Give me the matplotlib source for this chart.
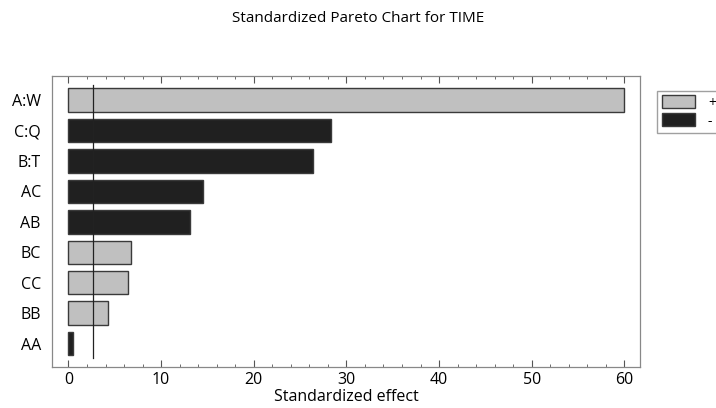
import matplotlib
matplotlib.use('Agg')
import matplotlib.pyplot as plt
from matplotlib.patches import Patch
from matplotlib.ticker import MultipleLocator

plt.rcParams['font.family'] = ['Open Sans', 'DejaVu Sans']

# Effects, top to bottom
terms = ['A:W', 'C:Q', 'B:T', 'AC', 'AB', 'BC', 'CC', 'BB', 'AA']
effects = [60.0, 28.35, 26.4, 14.5, 13.1, 6.7, 6.4, 4.25, 0.5]
signs = ['+', '-', '-', '-', '-', '+', '+', '+', '-']
critical = 2.6

POS = '#c0c0c0'
NEG = '#202020'

fig = plt.figure(figsize=(7.16, 4.08), dpi=100)
ax = fig.add_axes([0.0726, 0.1005, 0.8214, 0.7132])

colors = [POS if s == '+' else NEG for s in signs]
ypos = list(range(len(terms)))
ax.barh(ypos, effects, height=0.77, color=colors, edgecolor='#3a3a3a', linewidth=1.0, zorder=2)
ax.axvline(critical, ymin=0.03, ymax=0.97, color='#222222', linewidth=0.9, zorder=3)

ax.set_ylim(len(terms) - 1 + 0.77, -0.79)
ax.set_xlim(-1.78, 61.7)
ax.set_yticks(ypos)
ax.set_yticklabels(terms, fontsize=11.5)
ax.tick_params(axis='y', length=0, pad=8)

ax.xaxis.set_major_locator(MultipleLocator(10))
ax.xaxis.set_minor_locator(MultipleLocator(2))
ax.tick_params(axis='x', which='major', direction='in', length=5, top=True, labelsize=11.5, color='#555555')
ax.tick_params(axis='x', which='minor', direction='in', length=2.5, top=True, color='#555555')
ax.set_xlabel('Standardized effect', fontsize=11.5, labelpad=1)

for sp in ax.spines.values():
    sp.set_color('#888888')
    sp.set_linewidth(0.9)

fig.text(0.5, 0.955, 'Standardized Pareto Chart for TIME', ha='center', va='center', fontsize=11)

handles = [Patch(facecolor=POS, edgecolor='#3a3a3a', label='+'),
           Patch(facecolor=NEG, edgecolor='#3a3a3a', label='-')]
fig.legend(handles=handles, loc='upper left', bbox_to_anchor=(0.918, 0.778),
           frameon=True, fancybox=False, edgecolor='#888888', fontsize=10,
           handlelength=2.4, handleheight=1.05, borderpad=0.35, labelspacing=0.2,
           handletextpad=0.9, borderaxespad=0)

fig.savefig('out.png', dpi=100)
